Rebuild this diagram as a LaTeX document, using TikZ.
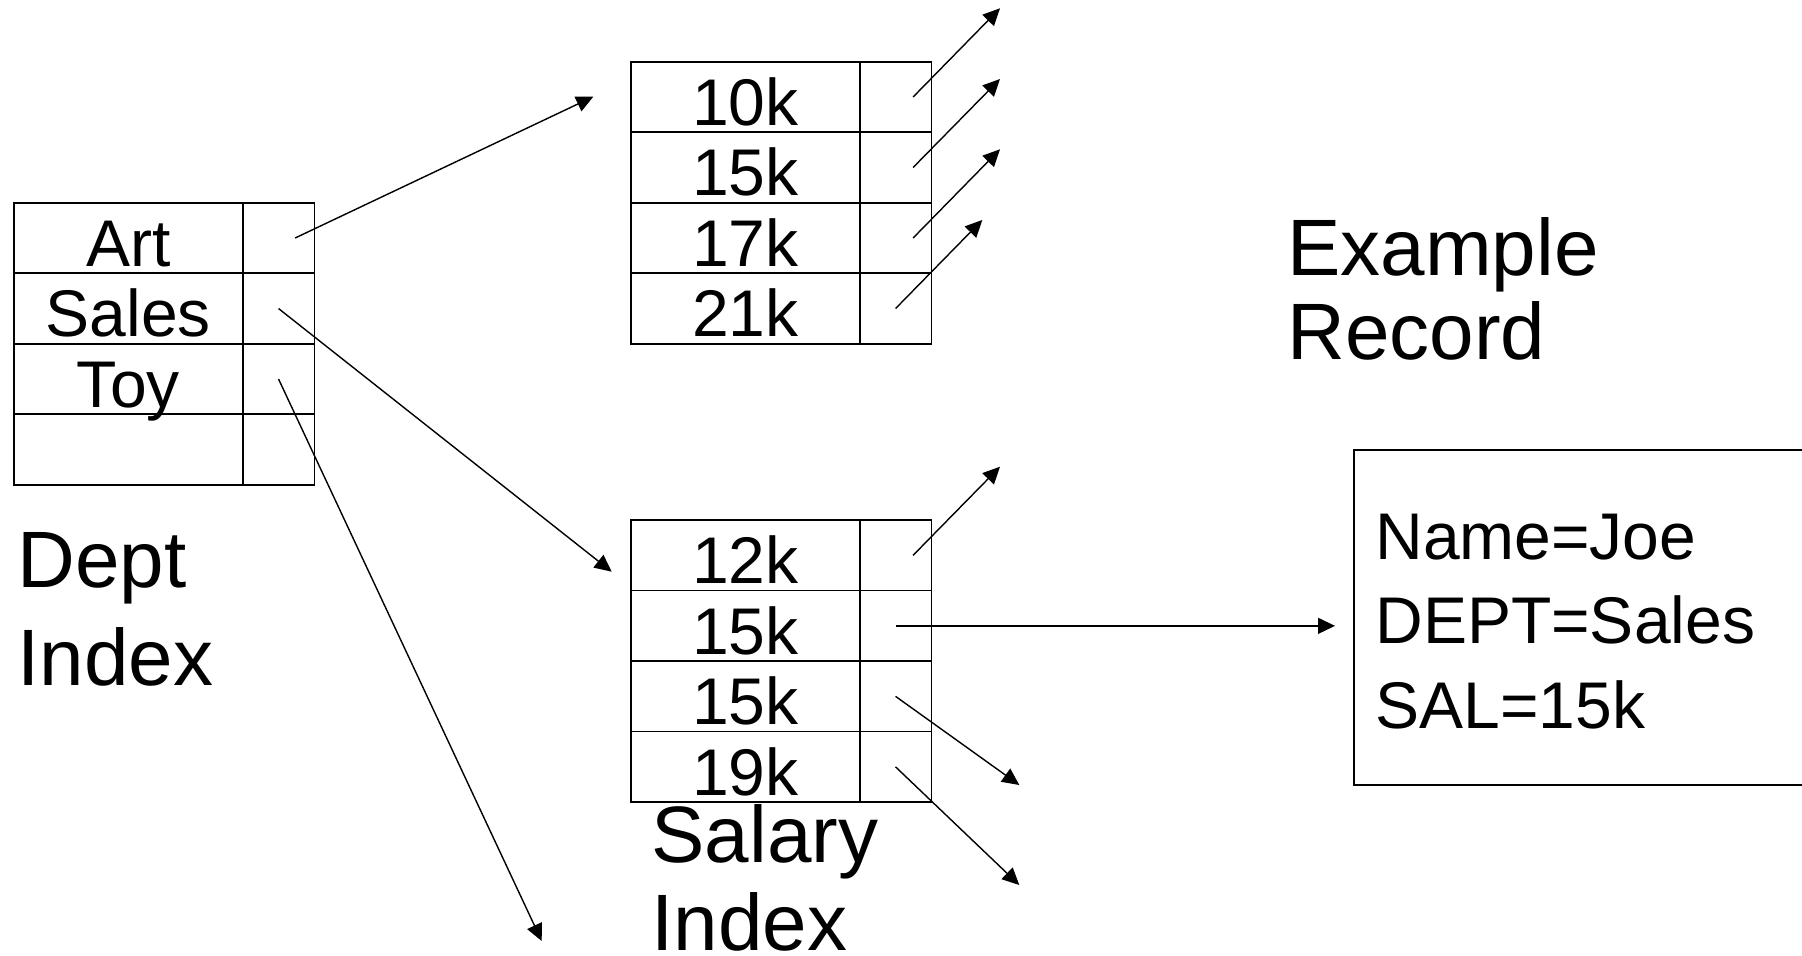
\documentclass[tikz,border=0pt]{standalone}
\usepackage{fontspec}
\setmainfont{Liberation Sans}
\usetikzlibrary{arrows.meta}

\tikzset{
  cellbase/.style={draw, line width=0.8pt, rectangle, inner sep=0pt,
    minimum height=35.25pt, text height=28.25pt, text depth=0pt,
    font=\fontsize{33pt}{39pt}\selectfont},
  keycell/.style={cellbase, minimum width=114.5pt, anchor=north west},
  ptrcell/.style={cellbase, minimum width=35.75pt, anchor=north west},
  ptr/.style={line width=0.7pt, -{Triangle[length=8.5pt,width=8pt]}},
  % multi-line text: the base anchor sits on the last line
  lbl/.style={anchor=base west, inner sep=0pt, align=left},
  recbox/.style={draw, line width=0.8pt, rectangle, inner sep=0pt,
    anchor=north west, minimum width=250pt, minimum height=167.5pt},
}

\begin{document}
\begin{tikzpicture}[x=0.5pt, y=-0.5pt]
  \useasboundingbox (0,0) rectangle (1802,956);
  \clip (0,0) rectangle (1802,956);

  % department index
  \foreach \t [count=\i from 0] in {Art,Sales,Toy,{}} {
    \node[keycell] (dk\i) at (13,{202+70.5*\i}) {\t};
    \node[ptrcell] (dp\i) at (242,{202+70.5*\i}) {};
  }

  % salary index, upper block
  \foreach \t [count=\i from 0] in {10k,15k,17k,21k} {
    \node[keycell] (tk\i) at (630,{61+70.5*\i}) {\t};
    \node[ptrcell] (tp\i) at (859,{61+70.5*\i}) {};
  }

  % salary index, lower block
  \foreach \t [count=\i from 0] in {12k,15k,15k,19k} {
    \node[keycell] (bk\i) at (630,{519.3+70.5*\i}) {\t};
    \node[ptrcell] (bp\i) at (859,{519.3+70.5*\i}) {};
  }

  % record
  \node[recbox] (rec) at (1353,449) {};
  \node[lbl, font=\fontsize{33pt}{42.25pt}\selectfont] (rectxt) at (1375,728.3)
    {Name=Joe\\DEPT=Sales\\SAL=15k};

  % labels
  \node[lbl, font=\fontsize{40pt}{49pt}\selectfont] (deptlbl) at (17,685) {Dept\\Index};
  \node[lbl, font=\fontsize{40pt}{42pt}\selectfont] (exlbl) at (1287,360) {Example\\Record};
  \node[lbl, font=\fontsize{40pt}{44pt}\selectfont] (sallbl) at (651,950) {Salary\\Index};

  % free ends of the pointers
  \coordinate (artEnd) at (593.3,96.7);
  \coordinate (salesEnd) at (611.7,571.7);
  \coordinate (toyEnd) at (541.7,941);
  \coordinate (t0End) at (1000,8.3);
  \coordinate (t1End) at (1000,79);
  \coordinate (t2End) at (1000,149.3);
  \coordinate (t3End) at (982.3,220);
  \coordinate (b0End) at (1000,466.7);
  \coordinate (b2End) at (1019.3,785);
  \coordinate (b3End) at (1019.3,885);

  % department pointers
  \draw[ptr] ([xshift=8.25pt]dp0.center) -- (artEnd);
  \draw[ptr] (dp1.center) -- (salesEnd);
  \draw[ptr] (dp2.center) -- (toyEnd);

  % upper block pointers
  \draw[ptr] ([xshift=8.75pt]tp0.center) -- (t0End);
  \draw[ptr] ([xshift=8.75pt]tp1.center) -- (t1End);
  \draw[ptr] ([xshift=8.75pt]tp2.center) -- (t2End);
  \draw[ptr] (tp3.center) -- (t3End);

  % lower block pointers
  \draw[ptr] ([xshift=8.75pt]bp0.center) -- (b0End);
  \draw[ptr, shorten >=9pt] (bp1.center) -- (bp1.center -| rec.west);
  \draw[ptr] (bp2.center) -- (b2End);
  \draw[ptr] (bp3.center) -- (b3End);
\end{tikzpicture}
\end{document}
